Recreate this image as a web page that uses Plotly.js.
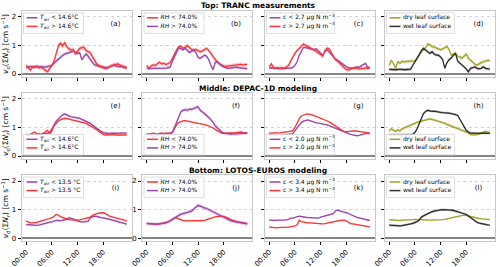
<!DOCTYPE html>
<html><head><meta charset="utf-8">
<script src="https://cdn.plot.ly/plotly-3.0.1.min.js"></script>
<style>html,body{margin:0;padding:0;background:#fff}#chart{width:500px;height:267px}</style>
</head><body><div id="chart"></div>
<script>
// ---------------- DATA ----------------
const hours = [0,0.5,1,1.5,2,2.5,3,3.5,4,4.5,5,5.5,6,6.5,7,7.5,8,8.5,9,9.5,10,10.5,11,11.5,
               12,12.5,13,13.5,14,14.5,15,15.5,16,16.5,17,17.5,18,18.5,19,19.5,20,20.5,21,21.5,22,22.5,23,23.5];
const tickHours = [0,6,12,18];
const tickLabels = ['00:00','06:00','12:00','18:00'];
const rowTitles = ['Top: TRANC measurements','Middle: DEPAC-1D modeling','Bottom: LOTOS-EUROS modeling'];
const panelLetters = ['(a)','(b)','(c)','(d)','(e)','(f)','(g)','(h)','(i)','(j)','(k)','(l)'];
const yTitle = '<i>v</i><sub>d</sub>(Σ<i>N</i><sub>r</sub>) [cm s<sup>−1</sup>]';

// Row 1: TRANC measurements
const a_purple = [0.22,0.25,0.27,0.25,0.26,0.27,0.25,0.26,0.25,0.24,0.26,0.27,
  0.30,0.38,0.45,0.52,0.60,0.65,0.70,0.72,0.76,0.78,0.80,0.76,
  0.72,0.74,0.50,0.62,0.70,0.62,0.50,0.40,0.32,0.30,0.26,0.25,
  0.24,0.22,0.22,0.25,0.30,0.32,0.28,0.26,0.27,0.25,0.22,0.22];
const a_red = [0.30,0.22,0.14,0.25,0.24,0.26,0.22,0.24,0.20,0.12,0.08,0.20,
  0.30,0.45,0.70,0.98,1.08,0.98,1.10,0.95,0.88,0.84,0.86,0.70,
  0.80,0.90,0.92,0.93,0.82,0.78,0.74,0.60,0.45,0.35,0.28,0.25,
  0.22,0.20,0.22,0.26,0.30,0.32,0.34,0.35,0.30,0.26,0.24,0.22];
const b_purple = [0.22,0.18,0.20,0.20,0.19,0.20,0.21,0.20,0.20,0.21,0.22,0.25,
  0.45,0.62,0.75,0.92,0.88,0.85,0.90,0.82,0.75,0.80,0.84,0.75,
  0.58,0.55,0.60,0.66,0.62,0.50,0.30,0.15,0.40,0.43,0.36,0.30,
  0.25,0.22,0.20,0.21,0.22,0.24,0.24,0.22,0.21,0.20,0.20,0.19];
const b_red = [0.30,0.20,0.28,0.32,0.30,0.36,0.42,0.35,0.38,0.33,0.36,0.40,
  0.55,0.72,0.85,0.95,0.97,0.90,0.93,1.00,0.92,0.85,0.84,0.86,
  0.82,0.78,0.80,0.85,0.90,0.82,0.72,0.60,0.50,0.42,0.35,0.30,
  0.28,0.27,0.28,0.30,0.30,0.32,0.33,0.34,0.34,0.32,0.33,0.34];
const c_purple = [0.20,0.22,0.20,0.21,0.20,0.19,0.20,0.21,0.20,0.20,0.21,0.22,
  0.30,0.42,0.65,0.80,0.93,0.92,0.90,0.88,0.86,0.85,0.88,0.82,
  0.74,0.66,0.78,0.84,0.78,0.68,0.60,0.52,0.48,0.42,0.37,0.30,
  0.26,0.22,0.20,0.20,0.22,0.25,0.24,0.28,0.34,0.37,0.24,0.22];
const c_red = [0.25,0.36,0.22,0.20,0.22,0.20,0.22,0.20,0.24,0.30,0.45,0.60,
  0.72,0.82,0.90,0.96,1.05,1.00,0.95,0.92,0.88,0.84,0.80,0.74,
  0.68,0.62,0.82,0.90,0.88,0.76,0.62,0.50,0.45,0.36,0.30,0.22,
  0.16,0.14,0.18,0.20,0.22,0.20,0.18,0.20,0.19,0.22,0.20,0.22];
const d_olive = [0.30,0.48,0.36,0.20,0.42,0.38,0.45,0.42,0.44,0.45,0.44,0.45,
  0.46,0.55,0.66,0.78,0.86,0.92,1.05,1.02,0.96,0.94,0.90,0.88,
  0.85,0.88,0.92,0.96,0.86,0.66,0.70,0.72,0.62,0.60,0.55,0.62,
  0.70,0.55,0.48,0.42,0.34,0.31,0.37,0.40,0.43,0.45,0.48,0.47];
const d_black = [0.16,0.15,0.16,0.15,0.16,0.17,0.16,0.15,0.16,0.16,0.17,0.30,
  0.45,0.55,0.68,0.82,0.90,0.84,0.78,0.72,0.78,0.70,0.66,0.66,
  0.60,0.50,0.20,0.40,0.50,0.56,0.66,0.72,0.45,0.38,0.34,0.27,
  0.18,0.08,0.20,0.22,0.25,0.20,0.18,0.20,0.25,0.20,0.18,0.17];

// Row 2: DEPAC-1D modeling
const e_purple = [0.76,0.74,0.75,0.77,0.74,0.76,0.78,0.75,0.80,0.78,0.80,0.82,
  0.95,1.10,1.22,1.30,1.38,1.44,1.47,1.43,1.40,1.37,1.36,1.35,
  1.33,1.32,1.28,1.25,1.22,1.18,1.14,1.08,1.02,0.96,0.92,0.86,
  0.82,0.80,0.79,0.78,0.80,0.79,0.80,0.79,0.80,0.79,0.80,0.80];
const e_red = [0.74,0.72,0.76,0.80,0.84,0.78,0.74,0.76,0.78,0.86,0.90,0.78,
  0.88,1.05,1.15,1.22,1.27,1.30,1.32,1.31,1.29,1.27,1.25,1.24,
  1.23,1.21,1.19,1.17,1.14,1.10,1.06,1.02,0.97,0.92,0.86,0.80,
  0.76,0.74,0.74,0.75,0.74,0.73,0.74,0.72,0.74,0.73,0.74,0.74];
const f_purple = [0.76,0.75,0.72,0.68,0.70,0.74,0.76,0.78,0.76,0.78,0.77,0.78,
  0.82,1.00,1.22,1.42,1.55,1.60,1.62,1.60,1.64,1.63,1.66,1.70,
  1.72,1.60,1.55,1.50,1.42,1.35,1.28,1.18,1.06,0.98,0.90,0.84,
  0.80,0.78,0.78,0.77,0.77,0.76,0.77,0.78,0.79,0.80,0.80,0.80];
const f_red = [0.77,0.76,0.78,0.80,0.78,0.76,0.79,0.80,0.78,0.80,0.79,0.80,
  0.82,0.96,1.10,1.17,1.21,1.23,1.24,1.22,1.20,1.18,1.16,1.15,
  1.14,1.13,1.12,1.10,1.08,1.05,1.02,0.98,0.93,0.88,0.83,0.80,
  0.79,0.80,0.80,0.81,0.80,0.81,0.82,0.83,0.84,0.82,0.81,0.80];
const g_purple = [0.76,0.74,0.73,0.72,0.70,0.72,0.73,0.74,0.75,0.76,0.76,0.78,
  0.88,0.98,1.08,1.17,1.22,1.25,1.26,1.24,1.21,1.18,1.16,1.15,
  1.14,1.12,1.11,1.09,1.06,1.03,1.00,0.97,0.94,0.90,0.86,0.83,
  0.80,0.78,0.76,0.74,0.72,0.71,0.72,0.74,0.76,0.78,0.80,0.77];
const g_red = [0.80,0.79,0.80,0.82,0.80,0.81,0.82,0.83,0.84,0.85,0.86,0.88,
  1.00,1.18,1.30,1.40,1.44,1.46,1.47,1.46,1.44,1.41,1.38,1.36,
  1.33,1.30,1.27,1.25,1.20,1.15,1.10,1.05,0.99,0.93,0.88,0.85,
  0.85,0.86,0.86,0.87,0.88,0.87,0.86,0.85,0.84,0.83,0.82,0.80];
const h_olive = [0.88,0.95,0.90,0.86,0.92,0.88,0.95,0.98,1.00,1.03,1.08,1.10,
  1.14,1.18,1.20,1.22,1.25,1.27,1.29,1.30,1.28,1.26,1.24,1.22,
  1.20,1.17,1.14,1.11,1.08,1.06,1.03,1.00,0.97,0.94,0.90,0.87,
  0.84,0.81,0.75,0.74,0.74,0.75,0.78,0.80,0.84,0.86,0.84,0.82];
const h_black = [0.74,0.74,0.73,0.74,0.73,0.74,0.74,0.73,0.74,0.74,0.75,0.76,
  0.82,0.95,1.15,1.32,1.48,1.56,1.60,1.58,1.56,1.57,1.55,1.55,
  1.53,1.52,1.52,1.50,1.50,1.48,1.47,1.45,1.42,1.30,1.15,1.02,
  0.90,0.84,0.80,0.80,0.79,0.80,0.79,0.80,0.80,0.79,0.80,0.79];

// Row 3: LOTOS-EUROS modeling
const i_purple = [0.48,0.47,0.47,0.46,0.46,0.45,0.46,0.47,0.50,0.52,0.55,0.56,
  0.57,0.60,0.62,0.62,0.61,0.63,0.64,0.66,0.72,0.70,0.68,0.64,
  0.60,0.58,0.57,0.57,0.58,0.60,0.72,0.75,0.77,0.76,0.73,0.72,
  0.71,0.70,0.68,0.66,0.64,0.62,0.60,0.58,0.56,0.54,0.51,0.49];
const i_red = [0.60,0.57,0.54,0.54,0.54,0.55,0.58,0.60,0.61,0.63,0.65,0.69,
  0.72,0.76,0.84,0.80,0.75,0.72,0.70,0.67,0.65,0.64,0.63,0.63,
  0.63,0.64,0.66,0.69,0.70,0.72,0.74,0.80,0.84,0.86,0.88,0.89,
  0.89,0.86,0.80,0.77,0.75,0.73,0.72,0.70,0.68,0.66,0.63,0.61];
const j_red = [0.52,0.51,0.50,0.49,0.49,0.49,0.50,0.51,0.53,0.55,0.57,0.60,
  0.65,0.70,0.71,0.68,0.64,0.62,0.61,0.61,0.60,0.60,0.60,0.60,
  0.60,0.60,0.61,0.62,0.65,0.68,0.71,0.74,0.75,0.76,0.77,0.77,
  0.76,0.74,0.71,0.66,0.63,0.60,0.58,0.57,0.55,0.54,0.52,0.51];
const j_purple = [0.51,0.50,0.50,0.49,0.49,0.49,0.50,0.50,0.52,0.54,0.57,0.62,
  0.67,0.73,0.76,0.80,0.84,0.87,0.88,0.90,0.92,0.95,1.02,1.10,
  1.15,1.12,1.08,1.06,1.04,1.00,0.96,0.93,0.90,0.86,0.82,0.78,
  0.74,0.70,0.66,0.62,0.60,0.58,0.56,0.55,0.54,0.53,0.52,0.50];
const k_purple = [0.63,0.62,0.62,0.62,0.63,0.63,0.63,0.63,0.64,0.66,0.70,0.70,
  0.72,0.75,0.77,0.76,0.74,0.73,0.72,0.72,0.71,0.71,0.70,0.70,
  0.74,0.76,0.78,0.80,0.82,0.83,0.86,0.97,0.98,0.96,0.94,0.92,
  0.90,0.87,0.83,0.79,0.76,0.73,0.71,0.69,0.67,0.65,0.63,0.62];
const k_red = [0.40,0.38,0.36,0.36,0.37,0.37,0.37,0.38,0.38,0.39,0.40,0.41,
  0.43,0.46,0.63,0.58,0.56,0.55,0.54,0.54,0.53,0.52,0.51,0.51,
  0.50,0.50,0.51,0.53,0.55,0.57,0.58,0.60,0.61,0.62,0.63,0.63,
  0.61,0.56,0.51,0.50,0.49,0.48,0.46,0.45,0.43,0.42,0.41,0.40];
const l_olive = [0.65,0.64,0.63,0.63,0.62,0.62,0.63,0.63,0.64,0.64,0.65,0.65,
  0.66,0.66,0.65,0.65,0.64,0.64,0.63,0.63,0.63,0.63,0.63,0.64,
  0.64,0.65,0.66,0.67,0.69,0.71,0.73,0.75,0.77,0.78,0.80,0.81,
  0.80,0.78,0.76,0.73,0.71,0.70,0.69,0.68,0.68,0.67,0.66,0.65];
const l_black = [0.46,0.45,0.45,0.44,0.43,0.43,0.44,0.45,0.46,0.48,0.50,0.52,
  0.54,0.58,0.63,0.74,0.78,0.82,0.86,0.90,0.93,0.95,0.97,0.98,
  0.99,1.00,1.00,1.00,0.99,0.98,0.97,0.95,0.93,0.91,0.89,0.86,
  0.83,0.78,0.72,0.67,0.60,0.56,0.53,0.51,0.50,0.48,0.47,0.46];

// band half-widths (uncertainty of the mean) per series
const bandA = [0.06,0.07], bandB = [0.05,0.06], bandC = [0.04,0.06], bandD = [0.06,0.05];
const bandE = [0.04,0.03], bandF = [0.06,0.02], bandG = [0.02,0.02], bandH = [0.05,0.04];
const bandI = [0.03,0.02], bandJ = [0.06,0.02], bandK = [0.02,0.02], bandL = [0.02,0.04];

// legend labels
const lblT1 = ['<i>T</i><sub>air</sub> &lt; 14.6°C','<i>T</i><sub>air</sub> &gt; 14.6°C'];
const lblT3 = ['<i>T</i><sub>air</sub> &lt; 13.5 °C','<i>T</i><sub>air</sub> &gt; 13.5 °C'];
const lblRH = ['<i>RH</i> &lt; 74.0%','<i>RH</i> &gt; 74.0%'];
const lblC1 = ['c &lt; 2.7 μg N m<sup>−3</sup>','c &gt; 2.7 μg N m<sup>−3</sup>'];
const lblC2 = ['c &lt; 2.0 μg N m<sup>−3</sup>','c &gt; 2.0 μg N m<sup>−3</sup>'];
const lblC3 = ['c &lt; 3.4 μg N m<sup>−3</sup>','c &gt; 3.4 μg N m<sup>−3</sup>'];
const lblLeaf = ['dry leaf surface','wet leaf surface'];

// ---------------- STYLE ----------------
const PURPLE = '#9b45ad', RED = '#ff3434', OLIVE = '#a2a22a', DARK = '#2e2e2e';
function rgba(hex, a){const n=parseInt(hex.slice(1),16);return `rgba(${n>>16&255},${n>>8&255},${n&255},${a})`;}

const panels = [
  [[a_purple,bandA[0],PURPLE,lblT1[0]],[a_red,bandA[1],RED,lblT1[1]]],
  [[b_red,bandB[1],RED,lblRH[0]],[b_purple,bandB[0],PURPLE,lblRH[1]]],
  [[c_purple,bandC[0],PURPLE,lblC1[0]],[c_red,bandC[1],RED,lblC1[1]]],
  [[d_olive,bandD[0],OLIVE,lblLeaf[0]],[d_black,bandD[1],DARK,lblLeaf[1]]],
  [[e_purple,bandE[0],PURPLE,lblT1[0]],[e_red,bandE[1],RED,lblT1[1]]],
  [[f_red,bandF[1],RED,lblRH[0]],[f_purple,bandF[0],PURPLE,lblRH[1]]],
  [[g_purple,bandG[0],PURPLE,lblC2[0]],[g_red,bandG[1],RED,lblC2[1]]],
  [[h_olive,bandH[0],OLIVE,lblLeaf[0]],[h_black,bandH[1],DARK,lblLeaf[1]]],
  [[i_purple,bandI[0],PURPLE,lblT3[0]],[i_red,bandI[1],RED,lblT3[1]]],
  [[j_red,bandJ[1],RED,lblRH[0]],[j_purple,bandJ[0],PURPLE,lblRH[1]]],
  [[k_purple,bandK[0],PURPLE,lblC3[0]],[k_red,bandK[1],RED,lblC3[1]]],
  [[l_olive,bandL[0],OLIVE,lblLeaf[0]],[l_black,bandL[1],DARK,lblLeaf[1]]]
];

// ---------------- LAYOUT GEOMETRY (pixels) ----------------
const W = 500, H = 267;
const colPx = [[21.5,131.5],[142,252],[264.5,374.5],[384.5,494.5]];
const rowPx = [[11.1,76.9],[93.1,158.9],[175.3,241.1]];
const legW = [60,60,68,68];
const px = x => x / W, py = y => 1 - y / H;
const FONT = 'DejaVu Sans';

const traces = [];
const layout = {
  width: W, height: H, margin: {l:0,r:0,t:0,b:0},
  paper_bgcolor: '#fff', plot_bgcolor: 'rgba(0,0,0,0)',
  font: {family: FONT, size: 7, color: '#000'},
  showlegend: false
};

// overlay pixel-space axes for legends / labels (drawn last, on top)
const OV = 13;
layout['xaxis' + OV] = {domain: [0,1], range: [0, W], visible: false, fixedrange: true, anchor: 'y' + OV};
layout['yaxis' + OV] = {domain: [0,1], range: [H, 0], visible: false, fixedrange: true, anchor: 'x' + OV};

const overlayShapes = [];   // legend boxes and line samples
const txt = {x: [], y: [], text: [], pos: [], size: []};
function addText(x, y, t, pos, size){ txt.x.push(x); txt.y.push(y); txt.text.push(t); txt.pos.push(pos); txt.size.push(size); }

const revHours = hours.slice().reverse();
panels.forEach((series, k) => {
  const row = Math.floor(k / 4), col = k % 4, n = k + 1;
  const sfx = n === 1 ? '' : n;
  const xa = 'x' + sfx, ya = 'y' + sfx;
  const [L, R] = colPx[col], [T, B] = rowPx[row];
  layout['xaxis' + sfx] = {
    domain: [px(L), px(R)], anchor: ya, range: [-1.1, 24.6],
    tickmode: 'array', tickvals: tickHours, ticktext: tickLabels,
    showticklabels: row === 2, tickangle: -45, tickfont: {size: 7},
    ticks: 'outside', ticklen: 3, tickwidth: 1, tickcolor: '#000',
    showgrid: false, zeroline: false, fixedrange: true,
    showline: true, mirror: true, linecolor: '#c8c8c8', linewidth: 1
  };
  layout['yaxis' + sfx] = {
    domain: [py(B), py(T)], anchor: xa, range: [-0.1, 2.2],
    tickmode: 'array', tickvals: [0,1,2], fixedrange: true,
    showticklabels: col === 0 || k === 9, tickfont: {size: 7},
    ticks: 'outside', ticklen: 3, tickwidth: 1, tickcolor: '#000',
    showgrid: true, gridcolor: '#d2d2d2', griddash: 'dot', gridwidth: 1,
    zeroline: true, zerolinecolor: '#858585', zerolinewidth: 1.5,
    showline: true, mirror: true, linecolor: '#c8c8c8', linewidth: 1,
    title: col === 0 ? {text: yTitle, font: {size: 7.5, family: FONT, color: '#000'}, standoff: 3} : undefined
  };
  series.forEach(([vals, band, color]) => {
    const up = vals.map(v => v + band), lo = vals.map(v => v - band).reverse();
    traces.push({x: hours.concat(revHours), y: up.concat(lo), xaxis: xa, yaxis: ya,
      type: 'scatter', mode: 'lines', fill: 'toself', fillcolor: rgba(color, 0.3),
      line: {width: 0}, hoverinfo: 'skip'});
  });
  series.forEach(([vals, band, color]) => {
    traces.push({x: hours, y: vals, xaxis: xa, yaxis: ya, type: 'scatter', mode: 'lines',
      line: {color: color, width: 1.3}, hoverinfo: 'skip'});
  });
  // legend (in overlay pixel space)
  const lw = legW[col], lh = 20.5, lx = L + 2;
  const ly = row === 1 ? B - 4 - lh : T + 1.8;
  overlayShapes.push({x: [lx, lx + lw, lx + lw, lx, lx], y: [ly, ly, ly + lh, ly + lh, ly],
    fill: 'toself', fillcolor: 'rgba(255,255,255,0.88)', line: {color: '#d4d4d4', width: 0.8}});
  series.forEach(([vals, band, color, label], j) => {
    const ey = ly + 4.9 + 8.6 * j;
    overlayShapes.push({x: [lx + 3, lx + 14], y: [ey, ey], line: {color: color, width: 1.5}});
    addText(lx + 16.5, ey, label, 'middle right', 6);
  });
  addText(R - 16, T + 13, panelLetters[k], 'middle center', 7);
});

const titleY = [6.5, 89.5, 171.3];
rowTitles.forEach((t, r) => addText(258, titleY[r], '<b>' + t + '</b>', 'middle center', 7.5));

overlayShapes.forEach(s => traces.push(Object.assign({type: 'scatter', mode: 'lines',
  xaxis: 'x' + OV, yaxis: 'y' + OV, hoverinfo: 'skip', cliponaxis: false}, s)));
traces.push({type: 'scatter', mode: 'text', xaxis: 'x' + OV, yaxis: 'y' + OV,
  x: txt.x, y: txt.y, text: txt.text, textposition: txt.pos, cliponaxis: false,
  textfont: {family: FONT, size: txt.size, color: '#000'}, hoverinfo: 'skip'});

Plotly.newPlot('chart', traces, layout, {displayModeBar: false, responsive: false});
</script></body></html>
